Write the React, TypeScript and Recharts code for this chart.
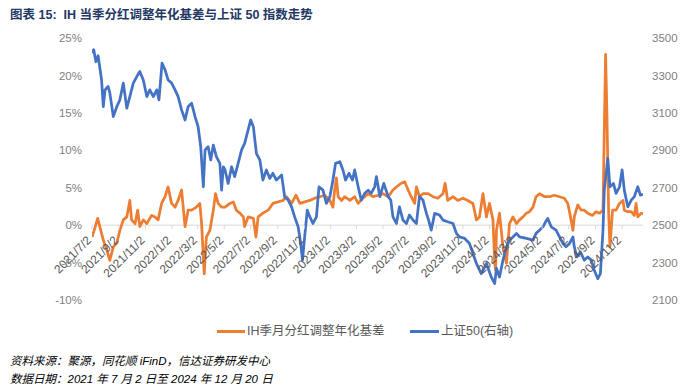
import React from "react";
import { LineChart, Line, XAxis, YAxis } from "recharts";

const sseDates = ["2021/7/2","2021/7/6","2021/7/11","2021/7/16","2021/7/20","2021/7/24","2021/7/28","2021/8/1","2021/8/8","2021/8/12","2021/8/20","2021/8/28","2021/9/4","2021/9/12","2021/9/20","2021/9/27","2021/10/5","2021/10/13","2021/10/20","2021/10/28","2021/11/5","2021/11/12","2021/11/20","2021/11/28","2021/12/3","2021/12/10","2021/12/17","2021/12/24","2022/1/1","2022/1/9","2022/1/16","2022/1/24","2022/2/1","2022/2/8","2022/2/16","2022/2/24","2022/3/3","2022/3/9","2022/3/15","2022/3/19","2022/3/26","2022/4/1","2022/4/7","2022/4/14","2022/4/22","2022/4/26","2022/4/30","2022/5/4","2022/5/11","2022/5/19","2022/5/26","2022/6/3","2022/6/11","2022/6/18","2022/6/26","2022/7/2","2022/7/8","2022/7/15","2022/7/23","2022/7/30","2022/8/7","2022/8/15","2022/8/22","2022/8/30","2022/9/11","2022/9/18","2022/9/26","2022/10/4","2022/10/11","2022/10/19","2022/10/25","2022/10/29","2022/11/3","2022/11/9","2022/11/15","2022/11/22","2022/11/30","2022/12/6","2022/12/15","2022/12/23","2022/12/31","2023/1/7","2023/1/13","2023/1/23","2023/1/30","2023/2/5","2023/2/13","2023/2/21","2023/2/26","2023/3/6","2023/3/13","2023/3/21","2023/3/29","2023/4/5","2023/4/13","2023/4/17","2023/4/25","2023/5/4","2023/5/14","2023/5/20","2023/5/25","2023/6/2","2023/6/9","2023/6/17","2023/6/25","2023/7/2","2023/7/10","2023/7/18","2023/7/25","2023/8/2","2023/8/10","2023/8/15","2023/8/21","2023/8/29","2023/9/9","2023/9/17","2023/9/28","2023/10/10","2023/10/18","2023/10/25","2023/11/6","2023/11/17","2023/11/25","2023/12/3","2023/12/14","2023/12/26","2024/1/6","2024/1/14","2024/1/18","2024/1/25","2024/2/2","2024/2/10","2024/2/17","2024/2/25","2024/3/4","2024/3/11","2024/3/27","2024/4/11","2024/4/18","2024/4/26","2024/5/4","2024/5/10","2024/5/15","2024/5/23","2024/6/3","2024/6/11","2024/6/19","2024/6/26","2024/7/4","2024/7/12","2024/7/15","2024/7/21","2024/7/29","2024/8/7","2024/8/15","2024/8/23","2024/8/30","2024/9/7","2024/9/13","2024/9/19","2024/9/22","2024/9/30","2024/10/5","2024/10/13","2024/10/19","2024/10/27","2024/11/2","2024/11/7","2024/11/15","2024/11/23","2024/11/30","2024/12/8","2024/12/14","2024/12/20"];
const sseValues = [3421,3437,3373,3405,3341,3276,3133,3223,3241,3207,3080,3133,3169,3259,3125,3187,3259,3294,3321,3276,3187,3223,3187,3223,3169,3366,3330,3276,3259,3223,3187,3116,3062,3133,3152,3080,3026,2919,2705,2902,2919,2848,2928,2866,2830,2687,2812,2795,2723,2812,2759,2830,2902,2937,3009,3062,3026,2884,2848,2741,2795,2750,2777,2741,2768,2652,2634,2598,2544,2491,2402,2313,2437,2580,2544,2509,2544,2705,2687,2616,2652,2741,2830,2839,2795,2741,2777,2741,2795,2705,2634,2670,2687,2670,2705,2759,2652,2723,2652,2634,2544,2509,2598,2527,2509,2554,2527,2509,2652,2634,2563,2527,2473,2563,2554,2527,2518,2509,2456,2437,2429,2402,2348,2295,2241,2295,2223,2188,2270,2223,2313,2384,2420,2437,2456,2437,2429,2420,2456,2473,2491,2518,2536,2491,2473,2437,2402,2384,2402,2437,2384,2330,2357,2313,2330,2313,2259,2214,2241,2473,2687,2857,2705,2723,2670,2705,2795,2687,2598,2634,2652,2705,2660,2665];

const ihDates = ["2021/7/2","2021/7/7","2021/7/15","2021/7/20","2021/7/28","2021/8/5","2021/8/12","2021/8/20","2021/8/28","2021/9/4","2021/9/12","2021/9/20","2021/9/27","2021/10/1","2021/10/9","2021/10/15","2021/10/20","2021/10/28","2021/11/5","2021/11/16","2021/11/24","2021/12/1","2021/12/9","2021/12/17","2021/12/24","2022/1/1","2022/1/9","2022/1/16","2022/1/24","2022/2/1","2022/2/8","2022/2/16","2022/2/27","2022/3/7","2022/3/11","2022/3/17","2022/3/22","2022/3/30","2022/4/7","2022/4/12","2022/4/18","2022/4/26","2022/5/4","2022/5/15","2022/5/23","2022/5/30","2022/6/7","2022/6/15","2022/6/18","2022/6/26","2022/7/8","2022/7/14","2022/7/19","2022/7/30","2022/8/11","2022/8/22","2022/9/3","2022/9/14","2022/9/22","2022/10/4","2022/10/14","2022/10/23","2022/11/3","2022/11/15","2022/11/26","2022/12/8","2022/12/19","2022/12/31","2023/1/7","2023/1/11","2023/1/15","2023/1/19","2023/1/27","2023/2/3","2023/2/15","2023/2/26","2023/3/6","2023/3/17","2023/3/29","2023/4/9","2023/4/21","2023/5/2","2023/5/14","2023/5/25","2023/6/2","2023/6/13","2023/6/21","2023/6/29","2023/7/6","2023/7/14","2023/7/18","2023/7/25","2023/8/2","2023/8/14","2023/8/25","2023/9/5","2023/9/17","2023/9/22","2023/9/28","2023/10/10","2023/10/21","2023/11/2","2023/11/13","2023/11/25","2023/12/3","2023/12/10","2023/12/18","2023/12/26","2024/1/2","2024/1/10","2024/1/14","2024/1/16","2024/1/18","2024/1/25","2024/2/2","2024/2/10","2024/2/17","2024/2/25","2024/3/4","2024/3/11","2024/3/19","2024/3/27","2024/4/3","2024/4/11","2024/4/18","2024/4/26","2024/5/8","2024/5/19","2024/5/30","2024/6/11","2024/6/22","2024/6/30","2024/7/4","2024/7/12","2024/7/15","2024/7/23","2024/7/31","2024/8/7","2024/8/15","2024/8/26","2024/9/3","2024/9/11","2024/9/19","2024/9/22","2024/9/25","2024/9/28","2024/10/2","2024/10/5","2024/10/11","2024/10/19","2024/10/27","2024/11/4","2024/11/7","2024/11/15","2024/11/23","2024/11/30","2024/12/4","2024/12/8","2024/12/16","2024/12/20"];
const ihValues = [-1.6,-0.7,0.9,-0.2,-2.0,-3.3,-4.7,-2.9,-2.4,-0.7,0.7,1.1,3.3,0.7,0.2,2.0,-0.2,0.7,0.2,1.3,1.1,0.7,2.9,3.8,5.1,2.9,2.4,3.3,4.7,-0.2,2.0,2.0,2.4,2.9,0.2,-6.5,-1.6,-0.7,2.0,4.2,2.9,2.4,2.4,2.9,3.1,2.0,1.6,1.1,-0.2,1.1,0.9,-1.6,1.1,1.6,2.0,2.9,3.1,3.3,3.8,2.9,4.0,2.9,3.1,3.3,3.6,3.8,4.0,3.3,2.4,4.7,6.3,3.8,3.3,3.8,3.3,3.8,2.9,3.6,4.2,3.8,4.0,4.2,3.8,4.7,5.1,5.6,5.8,4.7,3.8,2.9,5.1,3.8,4.2,4.2,3.8,3.6,4.2,5.6,3.3,3.8,3.3,3.6,3.3,2.9,0.7,1.1,4.2,1.1,2.9,0.7,-5.1,-6.0,-0.7,1.6,-2.9,-5.1,0.2,1.1,0.2,0.7,1.1,1.6,1.8,2.4,3.8,4.2,3.8,3.8,4.0,3.8,3.6,2.9,1.8,-0.7,1.1,2.7,2.0,2.0,1.6,1.3,1.8,1.6,2.0,12.7,22.8,15.0,1.6,-2.9,2.0,2.0,2.9,3.3,2.0,1.8,1.8,1.3,2.9,1.1,1.6,1.5];

const xTickLabels = ["2021/7/2","2021/9/2","2021/11/2","2022/1/2","2022/3/2","2022/5/2","2022/7/2","2022/9/2","2022/11/2","2023/1/2","2023/3/2","2023/5/2","2023/7/2","2023/9/2","2023/11/2","2024/1/2","2024/3/2","2024/5/2","2024/7/2","2024/9/2","2024/11/2"];
const leftTicks = [-10, -5, 0, 5, 10, 15, 20, 25];
const rightTicks = [2100, 2300, 2500, 2700, 2900, 3100, 3300, 3500];

const seriesNames = ["IH季月分红调整年化基差", "上证50(右轴)"];
const titleText = "图表 15:  IH 当季分红调整年化基差与上证 50 指数走势";
const sourceText = "资料来源：聚源，同花顺 iFinD，信达证券研发中心";
const dateText = "数据日期：2021 年 7 月 2 日至 2024 年 12 月 20 日";

const toT = (s: string) => {
  const [y, m, d] = s.split("/").map(Number);
  return Date.UTC(y, m - 1, d);
};

const sseData = sseDates.map((d, i) => ({ t: toT(d), v: sseValues[i] }));
const ihData = ihDates.map((d, i) => ({ t: toT(d), v: ihValues[i] }));
const xTicks = xTickLabels.map(toT);
const labelByT: Record<number, string> = {};
xTickLabels.forEach((l) => (labelByT[toT(l)] = l));
const xDomain = [toT("2021/7/2"), toT("2024/12/20")];

const ORANGE = "#ED7D31";
const BLUE = "#4472C4";
const FONT = "'Liberation Sans', Arial, 'Noto Sans CJK SC', sans-serif";

const CHART_W = 700;
const CHART_H = 320;
const MARGIN_TOP = 38;
const X_AXIS_H = 20;
const LEFT_W = 92;
const RIGHT_W = 57;
const PLOT_H = CHART_H - MARGIN_TOP - X_AXIS_H;
const LEFT_MIN = -10;
const LEFT_MAX = 25;
const ZERO_Y = MARGIN_TOP + (PLOT_H * (LEFT_MAX - 0)) / (LEFT_MAX - LEFT_MIN);

const XTick = (props: any) => {
  const { x, payload } = props;
  const label = labelByT[payload.value] ?? "";
  const tx = x - 3;
  const ty = ZERO_Y + 13;
  return (
    <g>
      <line x1={x} y1={ZERO_Y} x2={x} y2={ZERO_Y + 4} stroke="#d9d9d9" strokeWidth={1} />
      <text
        x={tx}
        y={ty}
        dy="0.35em"
        textAnchor="end"
        transform={`rotate(-45, ${tx}, ${ty})`}
        fill="#595959"
        fontSize={12}
        fontFamily={FONT}
      >
        {label}
      </text>
    </g>
  );
};

export default function App() {
  return (
    <div
      style={{
        position: "absolute",
        left: 0,
        top: 0,
        width: 700,
        height: 386,
        background: "#ffffff",
        overflow: "hidden",
        fontFamily: FONT,
      }}
    >
      <div
        style={{
          position: "absolute",
          left: 10,
          top: 4,
          fontSize: 12.5,
          fontWeight: "bold",
          color: "#1F3864",
          whiteSpace: "pre",
        }}
      >
        {titleText}
      </div>
      <div style={{ position: "absolute", left: 0, top: 0 }}>
        <LineChart
          width={CHART_W}
          height={CHART_H}
          margin={{ top: MARGIN_TOP, right: 0, bottom: 0, left: 0 }}
        >
          <XAxis
            dataKey="t"
            type="number"
            domain={xDomain}
            ticks={xTicks}
            height={X_AXIS_H}
            axisLine={false}
            tickLine={false}
            tick={<XTick />}
            interval={0}
            allowDataOverflow
          />
          <YAxis
            yAxisId="left"
            orientation="left"
            width={LEFT_W}
            domain={[LEFT_MIN, LEFT_MAX]}
            ticks={leftTicks}
            tickFormatter={(v: number) => `${v}%`}
            axisLine={false}
            tickLine={false}
            tickMargin={4}
            tick={{ fill: "#7f7f7f", fontSize: 11.5, fontFamily: FONT }}
            interval={0}
          />
          <YAxis
            yAxisId="right"
            orientation="right"
            width={RIGHT_W}
            domain={[2100, 3500]}
            ticks={rightTicks}
            axisLine={false}
            tickLine={false}
            tickMargin={3}
            tick={{ fill: "#7f7f7f", fontSize: 11.5, fontFamily: FONT }}
            interval={0}
          />
          <Line
            yAxisId="left"
            data={[{ t: xDomain[0], v: 0 }, { t: xDomain[1], v: 0 }]}
            dataKey="v"
            stroke="#d9d9d9"
            strokeWidth={1}
            dot={false}
            activeDot={false}
            legendType="none"
            isAnimationActive={false}
          />
          <Line
            yAxisId="left"
            data={ihData}
            dataKey="v"
            name={seriesNames[0]}
            stroke={ORANGE}
            strokeWidth={2.75}
            strokeLinejoin="round"
            dot={false}
            isAnimationActive={false}
          />
          <Line
            yAxisId="right"
            data={sseData}
            dataKey="v"
            name={seriesNames[1]}
            stroke={BLUE}
            strokeWidth={2.75}
            strokeLinejoin="round"
            dot={false}
            isAnimationActive={false}
          />
        </LineChart>
      </div>
      <div
        style={{
          position: "absolute",
          left: 0,
          top: 322,
          width: 700,
          fontSize: 12.5,
          color: "#595959",
          lineHeight: "18px",
        }}
      >
        <div style={{ position: "absolute", left: 217, top: 0, display: "flex", alignItems: "center" }}>
          <span style={{ display: "inline-block", width: 28, height: 3, background: ORANGE, marginRight: 2 }} />
          <span>{seriesNames[0]}</span>
        </div>
        <div style={{ position: "absolute", left: 410, top: 0, display: "flex", alignItems: "center" }}>
          <span style={{ display: "inline-block", width: 29, height: 3, background: BLUE, marginRight: 2 }} />
          <span>{seriesNames[1]}</span>
        </div>
      </div>
      <div
        style={{
          position: "absolute",
          left: 10,
          top: 352,
          fontSize: 11.5,
          fontStyle: "italic",
          color: "#000",
          lineHeight: "18px",
        }}
      >
        {sourceText}
      </div>
      <div
        style={{
          position: "absolute",
          left: 10,
          top: 370,
          fontSize: 11.5,
          fontStyle: "italic",
          color: "#000",
          lineHeight: "18px",
        }}
      >
        {dateText}
      </div>
    </div>
  );
}
